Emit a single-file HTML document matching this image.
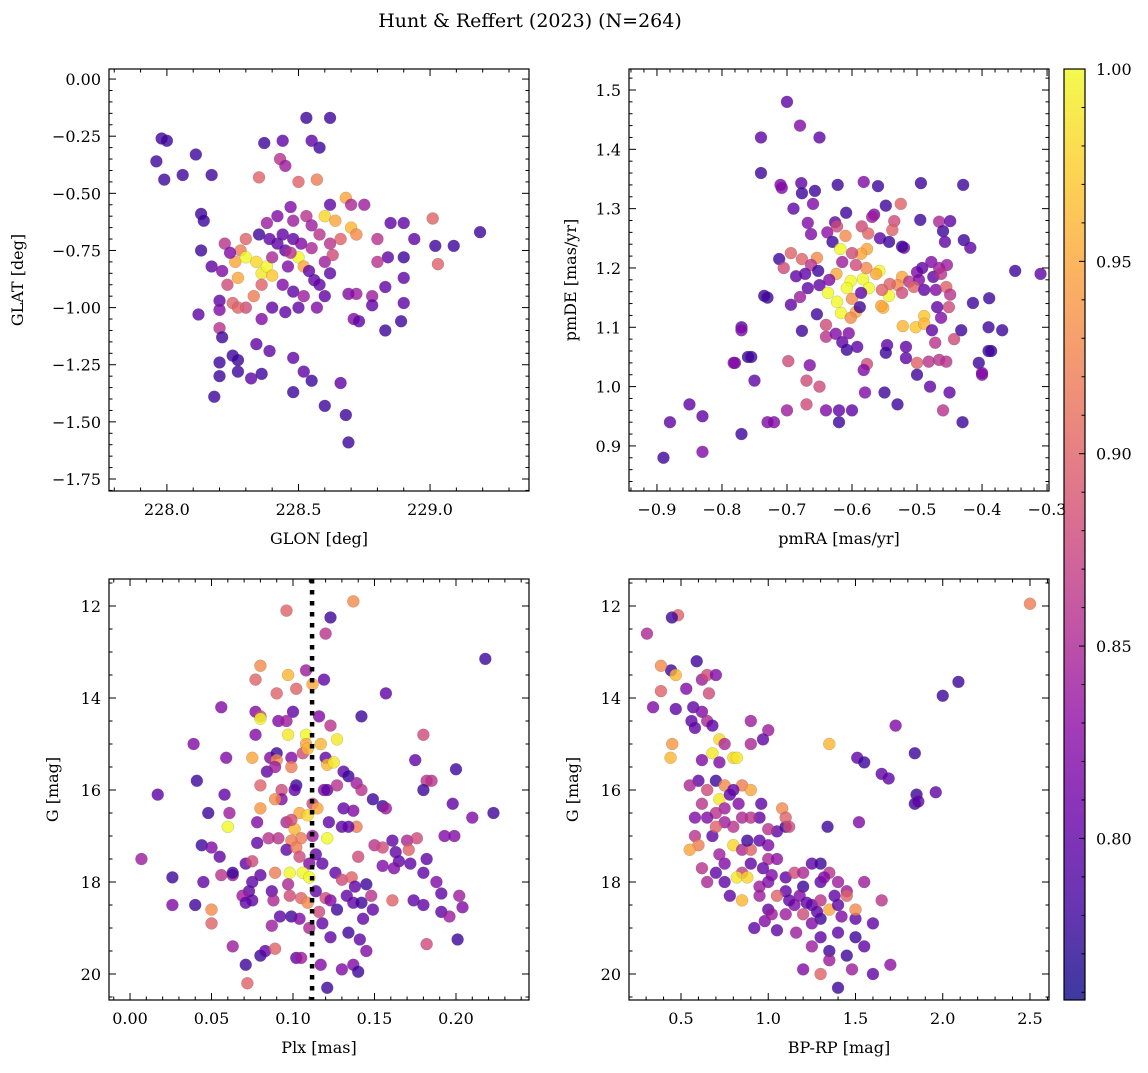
<!DOCTYPE html>
<html><head><meta charset="utf-8"><style>
html,body{margin:0;padding:0;background:#fff}
svg text{font-family:"DejaVu Serif","Liberation Serif",serif;fill:#000}
</style></head><body>
<svg id="chart" width="1148" height="1068" viewBox="0 0 1148 1068" xmlns="http://www.w3.org/2000/svg">
<text x="530" y="27" font-size="19" text-anchor="middle">Hunt &amp; Reffert (2023) (N=264)</text>
</svg>
<script>
// ---- data ----
const skyData=[[227.98,-0.26,.78],[228.0,-0.27,.78],[227.96,-0.36,.78],[227.99,-0.44,.78],[228.06,-0.42,.78],[228.11,-0.33,.78],[228.17,-0.42,.78],[228.13,-0.59,.78],[228.14,-0.62,.78],[228.13,-0.75,.78],[228.17,-0.82,.8],[228.21,-0.84,.82],[228.2,-0.97,.8],[228.2,-1.01,.82],[228.2,-1.09,.86],[228.12,-1.03,.8],[228.21,-1.13,.78],[228.2,-1.24,.78],[228.2,-1.30,.78],[228.18,-1.39,.78],[228.25,-1.21,.78],[228.27,-1.28,.78],[228.27,-1.23,.78],[228.32,-1.31,.8],[228.36,-1.29,.78],[228.39,-1.19,.8],[228.34,-1.16,.8],[228.48,-1.22,.8],[228.48,-1.37,.78],[228.52,-1.28,.8],[228.55,-1.32,.78],[228.6,-1.43,.78],[228.66,-1.33,.8],[228.68,-1.47,.78],[228.69,-1.59,.78],
[228.37,-0.28,.78],[228.44,-0.27,.8],[228.53,-0.17,.78],[228.62,-0.17,.78],[228.58,-0.30,.78],[228.55,-0.27,.8],[228.43,-0.35,.86],[228.45,-0.38,.84],[228.5,-0.45,.9],[228.57,-0.44,.92],[228.35,-0.43,.9],[228.68,-0.52,.95],[228.7,-0.55,.85],[228.75,-0.55,.84],[228.62,-0.55,.8],[228.6,-0.6,.98],[228.64,-0.62,.95],[228.7,-0.65,.96],[228.72,-0.68,.93],[228.66,-0.7,.9],
[228.9,-0.63,.8],[228.85,-0.63,.8],[228.94,-0.7,.8],[229.02,-0.73,.78],[229.09,-0.73,.78],[229.19,-0.67,.78],[229.03,-0.81,.9],[229.01,-0.61,.9],[228.8,-0.7,.86],[228.84,-0.78,.8],[228.9,-0.78,.78],[228.8,-0.8,.86],[228.83,-0.91,.8],[228.9,-0.87,.8],[228.9,-0.98,.8],[228.89,-1.06,.78],[228.83,-1.1,.78],[228.78,-0.95,.84],[228.72,-0.94,.84],[228.69,-0.94,.82],[228.71,-1.05,.82],[228.73,-1.06,.8],[228.78,-0.99,.8],
[228.3,-0.7,.9],[228.28,-0.75,.92],[228.26,-0.8,.95],[228.3,-0.78,1.0],[228.34,-0.8,.98],[228.36,-0.85,.99],[228.38,-0.82,1.0],[228.4,-0.86,.97],[228.36,-0.9,.9],[228.33,-0.95,.92],[228.27,-0.87,.95],[228.25,-0.98,.9],[228.3,-1.0,.88],[228.27,-1.0,.9],[228.4,-0.78,.85],[228.42,-0.72,.8],[228.45,-0.75,.8],[228.48,-0.7,.8],[228.5,-0.78,1.0],[228.52,-0.82,.95],[228.55,-0.74,.85],[228.58,-0.68,.86],[228.46,-0.82,.82],[228.44,-0.9,.82],[228.48,-0.93,.8],[228.52,-0.95,.84],[228.5,-1.0,.8],[228.45,-1.02,.8],[228.56,-0.88,.8],[228.6,-0.8,.84],[228.63,-0.77,.88],[228.62,-0.72,.86],[228.39,-0.7,.8],[228.35,-0.68,.78],[228.22,-0.72,.86],[228.24,-0.76,.82],[228.23,-0.9,.88],[228.42,-0.6,.82],[228.38,-0.63,.84],[228.48,-0.62,.84],[228.47,-0.56,.82],[228.53,-0.6,.86],[228.55,-0.64,.84],[228.4,-1.0,.8],[228.36,-1.05,.82],[228.6,-0.95,.8],[228.57,-1.0,.82],[228.62,-0.85,.8],[228.44,-0.68,.8],[228.51,-0.72,.82],[228.47,-0.76,.86],[228.54,-0.84,.8],[228.58,-0.9,.8]];

const pmData=[[-0.89,0.88,.78],[-0.88,0.94,.8],[-0.85,0.97,.8],[-0.83,0.95,.8],[-0.83,0.89,.82],[-0.77,0.92,.78],[-0.77,1.10,.8],[-0.76,1.05,.78],[-0.75,1.01,.8],[-0.78,1.04,.82],[-0.73,0.94,.82],[-0.72,0.94,.82],[-0.70,0.96,.84],[-0.67,0.97,.88],[-0.65,1.0,.88],[-0.67,1.01,.88],[-0.70,1.48,.8],[-0.74,1.42,.8],[-0.68,1.44,.82],[-0.65,1.42,.8],[-0.74,1.36,.78],[-0.71,1.34,.82],[-0.73,1.15,.78],[-0.31,1.19,.8],[-0.39,1.10,.78],[-0.39,1.06,.78],[-0.40,1.02,.82],[-0.45,0.99,.8],[-0.46,0.96,.86],[-0.43,0.94,.78],[-0.53,0.97,.78],[-0.55,0.99,.78],[-0.58,0.99,.82],[-0.60,0.96,.8],[-0.62,0.96,.8],[-0.62,0.94,.78],[-0.64,0.96,.82],[-0.50,1.02,.78],[-0.48,1.0,.8],
[-0.708,1.335,.82],[-0.678,1.343,.8],[-0.677,1.326,.78],[-0.657,1.33,.78],[-0.622,1.34,.78],[-0.582,1.345,.82],[-0.56,1.338,.78],[-0.494,1.343,.78],[-0.429,1.34,.78],[-0.69,1.30,.8],[-0.66,1.308,.82],[-0.668,1.276,.82],[-0.663,1.257,.82],[-0.638,1.26,.83],[-0.626,1.277,.8],[-0.623,1.27,.88],[-0.61,1.254,.93],[-0.63,1.244,.78],[-0.609,1.293,.78],[-0.585,1.27,.88],[-0.575,1.258,.9],[-0.566,1.29,.82],[-0.569,1.286,.84],[-0.548,1.305,.78],[-0.525,1.308,.9],[-0.535,1.279,.88],[-0.538,1.264,.9],[-0.557,1.25,.8],[-0.543,1.244,.78],[-0.52,1.234,.82],[-0.523,1.236,.78],[-0.495,1.281,.78],[-0.466,1.278,.85],[-0.449,1.279,.8],[-0.46,1.262,.78],[-0.457,1.244,.8],[-0.428,1.247,.78],[-0.418,1.234,.8],
[-0.618,1.232,1.0],[-0.577,1.232,.95],[-0.586,1.224,.95],[-0.6,1.225,.88],[-0.615,1.21,.84],[-0.694,1.225,.9],[-0.677,1.215,.9],[-0.654,1.217,.93],[-0.712,1.215,.78],[-0.705,1.2,.88],[-0.663,1.205,.86],[-0.652,1.195,.78],[-0.686,1.186,.8],[-0.672,1.19,.8],[-0.624,1.19,.95],[-0.635,1.18,.82],[-0.65,1.171,.8],[-0.668,1.166,.8],
[-0.602,1.178,1.0],[-0.583,1.181,1.0],[-0.558,1.195,1.0],[-0.563,1.19,.95],[-0.578,1.2,.93],[-0.594,1.205,.88],[-0.523,1.185,.95],[-0.53,1.171,.93],[-0.512,1.177,.86],[-0.5,1.193,.82],[-0.492,1.2,.8],[-0.478,1.21,.82],[-0.466,1.2,.84],[-0.454,1.205,.84],[-0.475,1.185,.8],[-0.463,1.19,.86],[-0.497,1.18,.82],
[-0.608,1.166,1.0],[-0.574,1.166,1.0],[-0.637,1.158,1.0],[-0.623,1.143,1.0],[-0.617,1.124,1.0],[-0.6,1.148,.93],[-0.594,1.126,.95],[-0.602,1.116,.93],[-0.543,1.153,1.0],[-0.552,1.133,.96],[-0.555,1.136,.95],[-0.542,1.173,.9],[-0.554,1.163,.9],[-0.586,1.158,.8],[-0.588,1.134,.78],
[-0.523,1.158,.88],[-0.505,1.168,.9],[-0.489,1.163,.8],[-0.471,1.163,.82],[-0.455,1.168,.9],[-0.449,1.155,.86],[-0.451,1.134,.88],[-0.469,1.134,.8],[-0.489,1.119,.97],[-0.502,1.1,.97],[-0.522,1.102,.96],[-0.489,1.106,.96],[-0.477,1.095,.8],[-0.472,1.074,.86],[-0.443,1.08,.88],[-0.463,1.116,.82],
[-0.735,1.153,.78],[-0.694,1.138,.8],[-0.68,1.151,.84],[-0.654,1.122,.78],[-0.64,1.104,.88],[-0.64,1.084,.86],[-0.625,1.089,.82],[-0.615,1.075,.8],[-0.605,1.09,.82],[-0.592,1.067,.8],[-0.608,1.062,.78],[-0.546,1.07,.8],[-0.548,1.057,.78],[-0.517,1.067,.8],[-0.517,1.048,.8],[-0.5,1.04,.9],[-0.482,1.042,.86],[-0.466,1.045,.86],[-0.455,1.042,.86],[-0.432,1.095,.78],[-0.405,1.04,.78],[-0.4,1.023,.82],[-0.386,1.06,.78],[-0.369,1.095,.78],[-0.389,1.149,.78],[-0.414,1.141,.78],[-0.349,1.195,.78],[-0.677,1.094,.78],[-0.77,1.095,.82],[-0.755,1.05,.78],[-0.782,1.04,.82],[-0.698,1.043,.88],[-0.665,1.036,.82],[-0.577,1.038,.88],[-0.582,1.028,.82]];

const plxData=[[.137,11.9,.93],[.096,12.1,.9],[.123,12.25,.78],[.120,12.6,.86],[.218,13.15,.78],[.080,13.3,.93],[.097,13.5,.96],[.077,13.6,.9],[.108,13.4,.84],[.112,13.7,.95],[.119,13.6,.8],[.090,13.9,.9],[.102,13.8,.9],[.157,13.9,.8],[.056,14.2,.82],[.077,14.3,.82],[.080,14.4,.88],[.080,14.45,1.0],[.100,14.3,.8],[.116,14.4,.82],[.142,14.4,.78],[.091,14.5,.82],[.096,14.5,.84],[.077,14.8,.82],[.097,14.8,.99],[.108,14.8,1.0],[.123,14.6,.86],[.127,14.9,.99],[.117,15.0,.96],[.108,15.0,.95],[.180,14.8,.88],[.039,15.0,.82],[.059,15.3,.82],[.075,15.3,.95],[.086,15.3,.82],[.090,15.2,.78],[.090,15.35,.93],[.099,15.3,.82],[.099,15.5,.92],[.106,15.2,.88],[.120,15.3,.8],[.121,15.45,.96],[.125,15.4,.99],[.109,15.1,.96],[.175,15.35,.8],[.084,15.6,.8],[.089,15.5,.84],[.131,15.6,.8],[.134,15.7,.78],[.139,15.85,.84],[.142,16.0,.86],[.041,15.8,.78],[.200,15.55,.78],[.182,15.8,.86],[.185,15.8,.86],[.180,16.0,.78],[.017,16.1,.8],[.058,16.1,.8],[.080,15.9,.9],[.093,16.0,.88],[.093,16.2,.82],[.089,16.2,.93],[.102,15.9,.78],[.101,16.0,.8],[.119,16.0,.82],[.121,16.0,.8],[.127,15.9,.86],[.149,16.2,.78],[.155,16.35,.78],[.157,16.4,.84],[.198,16.3,.8],[.223,16.5,.78],[.210,16.6,.82],[.048,16.5,.78],[.061,16.5,.84],[.060,16.8,1.0],[.080,16.4,.94],[.078,16.7,.82],[.112,16.3,.88],[.115,16.4,.95],[.104,16.5,.95],[.109,16.55,.98],[.131,16.4,.8],[.137,16.45,.82],[.139,16.8,.92],[.122,16.7,.8],[.130,16.8,.8],[.134,16.8,.8],[.096,16.7,.85],[.101,16.85,.96],[.099,16.65,.88],[.121,17.05,1.0],[.112,17.0,.84],[.105,17.05,.92],[.099,17.1,.92],[.044,17.2,.78],[.050,17.25,.82],[.055,17.45,.8],[.007,17.5,.84],[.078,17.15,.8],[.085,17.05,.86],[.091,17.05,.86],[.096,17.3,.8],[.102,17.25,.92],[.104,17.45,.88],[.114,17.4,.8],[.118,17.6,.8],[.110,17.6,.82],[.140,17.45,.88],[.150,17.2,.86],[.155,17.25,.88],[.161,17.1,.8],[.163,17.35,.8],[.170,17.1,.85],[.176,17.05,.88],[.171,17.3,.9],[.165,17.55,.8],[.162,17.7,.82],[.172,17.6,.8],[.182,17.5,.8],[.155,17.65,.82],[.193,17.0,.82],[.199,17.0,.82],[.180,17.8,.8],[.188,18.0,.82],[.191,18.25,.8],[.191,18.65,.8],[.196,18.75,.84],[.202,18.3,.84],[.204,18.55,.82],[.174,18.4,.8],[.180,18.5,.8],[.161,18.4,.9],[.071,17.6,.8],[.075,17.55,.88],[.026,17.9,.78],[.045,18.0,.8],[.056,17.85,.86],[.063,17.85,.84],[.063,17.8,.78],[.089,17.8,.92],[.098,17.8,1.0],[.106,17.8,1.0],[.110,17.9,1.0],[.080,17.85,.8],[.075,18.0,.8],[.073,18.2,.8],[.069,18.3,.84],[.075,18.4,.8],[.071,18.45,.8],[.087,18.2,.8],[.097,18.05,.85],[.098,18.3,.88],[.088,18.4,.85],[.105,18.35,.9],[.109,18.45,.93],[.114,18.2,.8],[.126,17.8,.8],[.130,17.95,.88],[.136,17.9,.9],[.138,18.1,.8],[.145,18.05,.78],[.133,18.3,.8],[.137,18.45,.8],[.142,18.45,.78],[.120,18.35,.88],[.123,18.4,.82],[.148,18.3,.86],[.127,18.6,.78],[.149,18.6,.8],[.143,18.8,.8],[.026,18.5,.82],[.040,18.5,.78],[.050,18.6,.93],[.050,18.9,.9],[.092,18.75,.8],[.099,18.75,.78],[.104,18.8,.82],[.110,19.0,.85],[.118,18.9,.8],[.087,18.95,.84],[.116,18.65,.88],[.123,19.2,.8],[.134,19.1,.78],[.141,19.25,.8],[.145,19.5,.82],[.182,19.35,.88],[.201,19.25,.78],[.063,19.4,.84],[.080,19.6,.78],[.083,19.5,.8],[.089,19.45,.9],[.102,19.65,.8],[.105,19.65,.84],[.117,19.8,.82],[.130,19.9,.82],[.137,19.8,.82],[.140,19.95,.78],[.071,19.8,.78],[.072,20.2,.9],[.121,20.3,.78]];

const cmdData=[[0.305,12.6,.85],[0.443,13.4,.78],[0.483,12.2,.9],[0.448,12.25,.78],[0.385,13.3,.93],[0.385,13.85,.9],[0.44,15.3,.96],[0.45,15.0,.94],[0.34,14.2,.82],[0.47,14.24,.8],[0.47,13.5,.96],[0.53,13.8,.82],[0.59,13.2,.78],[0.56,14.5,.8],[0.57,14.2,.8],[0.62,13.6,.84],[0.65,13.5,.88],[0.66,13.9,.88],[0.70,13.5,.82],[2.5,11.95,.92],[2.09,13.65,.78],[2.0,13.95,.78],[1.96,16.05,.8],[1.84,15.2,.78],[1.85,16.1,.78],[1.84,16.3,.78],[1.86,16.25,.8],[1.65,15.65,.8],[1.69,15.75,.8],[1.73,14.6,.82],[1.51,15.3,.8],[1.55,15.4,.78],[1.52,16.7,.82],[1.34,16.8,.78],[1.35,15.0,.96],[1.0,14.7,.84],[0.9,14.5,.84],
[0.62,14.3,.82],[0.65,14.5,.85],[0.68,14.6,.8],[0.58,14.65,.8],[0.72,14.9,.98],[0.75,15.0,.85],[0.68,15.2,.99],[0.62,15.35,.82],[0.72,15.4,.82],[0.8,15.3,.98],[0.82,15.3,.99],[0.9,15.0,.85],[0.97,14.9,.8],[0.7,15.8,.78],[0.6,15.8,.8],[0.65,16.0,.88],[0.55,15.9,.85],[0.75,15.9,.93],[0.85,15.9,.92],[0.9,16.0,.95],[0.8,16.0,.8],[0.72,16.2,.99],[0.75,16.4,.84],[0.7,16.5,.86],[0.65,16.6,.82],[0.8,16.8,.86],[0.75,16.7,.84],[0.85,16.6,.85],[0.95,16.6,.8],[0.58,17.0,.86],[0.6,17.2,.92],[0.55,17.3,.95],[0.8,17.2,.98],[0.85,17.3,.85],[0.9,17.3,.9],[1.0,17.2,.82],[1.05,16.9,.8],[1.1,16.8,.78],[1.08,16.4,.93],[1.1,16.6,.9],[1.12,16.8,.88],[0.95,17.1,.8],[1.0,17.5,.85],[1.05,17.5,.83],[0.9,17.6,.8],[0.85,17.8,.87],[0.75,17.6,.82],[0.7,17.8,.8],[0.62,17.7,.86],[0.65,18.0,.85],[0.75,18.0,.8],[0.82,17.9,.99],[0.88,17.9,.98],[0.95,18.1,.84],[1.0,18.0,.82],[1.1,17.9,.8],[1.15,17.8,.88],[1.2,17.8,.85],[1.25,17.6,.8],[1.3,17.6,.78],[1.35,17.8,.86],[1.4,18.0,.84],[1.45,18.2,.84],[1.3,18.0,.8],[1.2,18.1,.78],[1.1,18.2,.8],[1.05,18.3,.9],[0.95,18.3,.84],[0.85,18.4,.96],[0.78,18.3,.8],[1.0,18.6,.8],[1.15,18.5,.82],[1.2,18.7,.88],[1.25,18.5,.8],[1.3,18.4,.86],[1.35,18.6,.95],[1.4,18.5,.8],[1.45,18.3,.9],[1.3,18.8,.78],[1.25,18.9,.82],[1.1,18.7,.84],[0.92,19.0,.8],[1.5,18.8,.8],[1.6,18.9,.8],[1.65,18.4,.86],[1.55,18.0,.84],[1.3,19.2,.8],[1.25,19.4,.84],[1.35,19.5,.78],[1.5,19.2,.78],[1.45,19.6,.78],[1.35,19.7,.84],[1.48,19.9,.84],[1.3,20.0,.9],[1.4,20.3,.78],[1.2,19.9,.82],[1.6,20.0,.8],[1.7,19.8,.83],[1.55,19.4,.8],[1.4,19.1,.8],[1.5,18.6,.93],
[0.78,16.1,.8],[0.83,16.3,.82],[0.9,16.6,.86],[0.68,17.0,.8],[0.72,17.4,.84],[0.88,17.1,.78],[0.97,17.7,.8],[1.02,17.85,.82],[1.12,18.4,.8],[1.18,18.3,.82],[1.22,18.45,.8],[1.28,18.65,.8],[1.38,18.3,.8],[1.42,18.75,.82],[1.16,19.1,.84],[1.05,19.05,.8],[0.98,18.85,.82],[0.7,16.8,.9],[0.62,16.3,.86],[0.58,16.6,.82],[1.02,18.7,.84],[1.32,17.9,.82],[0.96,16.3,.8],[1.0,16.85,.86]];

const cbTicks=[0.80,0.85,0.90,0.95,1.00];
const pMin=0.758, pMax=1.0;

// ---- rendering ----
const NS='http://www.w3.org/2000/svg';
const svg=document.getElementById('chart');
function mk(tag,attrs,parent){const e=document.createElementNS(NS,tag);for(const k in attrs)e.setAttribute(k,attrs[k]);(parent||svg).appendChild(e);return e;}
const plasma=[[13,8,135],[65,4,157],[106,0,168],[143,13,164],[177,42,144],[204,71,120],[225,100,98],[242,132,75],[252,166,54],[252,206,37],[240,249,33]];
function cmap(t){t=Math.max(0,Math.min(1,t));const s=t*10,i=Math.min(9,Math.floor(s)),f=s-i;const a=plasma[i],b=plasma[i+1];return 'rgb('+[0,1,2].map(k=>Math.round(a[k]+(b[k]-a[k])*f)).join(',')+')';}
function fmt(v,d){return (v<0?'\u2212':'')+Math.abs(v).toFixed(d);}

function panel(o){
  const g=mk('g',{});
  
  
  const sx=v=>o.x0+(v-o.xmin)/(o.xmax-o.xmin)*(o.x1-o.x0);
  const sy=v=>o.y0+(v-o.ymax)/(o.ymin-o.ymax)*(o.y1-o.y0);
  const clip='c'+o.name;
  const cp=mk('clipPath',{id:clip},g);mk('rect',{x:o.x0,y:o.y0,width:o.x1-o.x0,height:o.y1-o.y0},cp);
  const pts=mk('g',{'clip-path':'url(#'+clip+')'},g);
  o.data.forEach(d=>{
    const c=mk('circle',{cx:sx(d[0]),cy:sy(d[1]),r:6,fill:cmap((d[2]-pMin)/(pMax-pMin)),'fill-opacity':0.8,stroke:'#555','stroke-opacity':0.35,'stroke-width':0.5},pts);
    
    
  });
  if(o.vline!==undefined){const l=mk('line',{x1:sx(o.vline),x2:sx(o.vline),y1:o.y0,y2:o.y1,stroke:'#000','stroke-width':4.5,'stroke-dasharray':'4.5 6.5'},pts);
    }
  mk('rect',{x:o.x0,y:o.y0,width:o.x1-o.x0,height:o.y1-o.y0,fill:'none',stroke:'#000','stroke-width':1.2},g);
  const eps=1e-9;
  for(let v=Math.ceil(o.xmin/o.xminor-eps)*o.xminor;v<=o.xmax+eps;v+=o.xminor){
    const X=sx(v);const major=Math.abs(v/o.xmajor-Math.round(v/o.xmajor))<1e-6;const L=major?7:3.5;
    mk('line',{x1:X,x2:X,y1:o.y1,y2:o.y1-L,stroke:'#000','stroke-width':1},g);
    mk('line',{x1:X,x2:X,y1:o.y0,y2:o.y0+L,stroke:'#000','stroke-width':1},g);
    if(major){const t=mk('text',{x:X,y:o.y1+24,'font-size':16,'text-anchor':'middle'},g);t.textContent=fmt(Math.round(v/o.xmajor)*o.xmajor,o.xd);
      }
  }
  const lo=Math.min(o.ymin,o.ymax),hi=Math.max(o.ymin,o.ymax);
  for(let v=Math.ceil(lo/o.yminor-eps)*o.yminor;v<=hi+eps;v+=o.yminor){
    const Y=sy(v);const major=Math.abs(v/o.ymajor-Math.round(v/o.ymajor))<1e-6;const L=major?7:3.5;
    mk('line',{x1:o.x0,x2:o.x0+L,y1:Y,y2:Y,stroke:'#000','stroke-width':1},g);
    mk('line',{x1:o.x1,x2:o.x1-L,y1:Y,y2:Y,stroke:'#000','stroke-width':1},g);
    if(major){const t=mk('text',{x:o.x0-8,y:Y+6,'font-size':16,'text-anchor':'end'},g);t.textContent=fmt(Math.round(v/o.ymajor)*o.ymajor,o.yd);
      }
  }
  const xl=mk('text',{x:(o.x0+o.x1)/2,y:o.y1+53,'font-size':16,'text-anchor':'middle'},g);xl.textContent=o.xlabel;
  
  const yx=o.ylx,yy=(o.y0+o.y1)/2;
  const yl=mk('text',{x:yx,y:yy,'font-size':16,'text-anchor':'middle',transform:'rotate(-90 '+yx+' '+yy+')'},g);yl.textContent=o.ylabel;
  
}
panel({name:'sky-panel',data:skyData,x0:109,x1:529,y0:69,y1:491,xmin:227.78,xmax:229.376,ymin:-1.8025,ymax:0.044,xmajor:0.5,xminor:0.1,ymajor:0.25,yminor:0.05,xd:1,yd:2,xlabel:'GLON [deg]',ylabel:'GLAT [deg]',ylx:23});
panel({name:'proper-motion-panel',data:pmData,x0:629,x1:1049,y0:69,y1:491,xmin:-0.943,xmax:-0.297,ymin:0.824,ymax:1.5354,xmajor:0.1,xminor:0.02,ymajor:0.1,yminor:0.02,xd:1,yd:1,xlabel:'pmRA [mas/yr]',ylabel:'pmDE [mas/yr]',ylx:576});
panel({name:'parallax-panel',data:plxData,x0:109,x1:529,y0:579,y1:1000,xmin:-0.0129,xmax:0.2448,ymin:20.565,ymax:11.413,xmajor:0.05,xminor:0.01,ymajor:2,yminor:0.5,xd:2,yd:0,xlabel:'Plx [mas]',ylabel:'G [mag]',ylx:58,vline:0.1117});
panel({name:'cmd-panel',data:cmdData,x0:629,x1:1049,y0:579,y1:1000,xmin:0.202,xmax:2.609,ymin:20.565,ymax:11.413,xmajor:0.5,xminor:0.1,ymajor:2,yminor:0.5,xd:1,yd:0,xlabel:'BP-RP [mag]',ylabel:'G [mag]',ylx:578});

// colorbar
const cb=mk('g',{});


const defs=mk('defs',{},cb);
const lg=mk('linearGradient',{id:'cbg',x1:0,y1:1,x2:0,y2:0},defs);
for(let i=0;i<=10;i++)mk('stop',{offset:i/10,'stop-color':cmap(i/10),'stop-opacity':0.8},lg);
const cbx0=1064,cbx1=1085,cby0=69,cby1=1000;
mk('rect',{x:cbx0,y:cby0,width:cbx1-cbx0,height:cby1-cby0,fill:'url(#cbg)',stroke:'#000','stroke-width':1.2},cb);
const cy=v=>cby1-(v-pMin)/(pMax-pMin)*(cby1-cby0);
for(let v=0.76;v<=1.0001;v+=0.01){const Y=cy(v);const major=Math.abs(v*20-Math.round(v*20))<1e-6;
  mk('line',{x1:cbx1,x2:cbx1-(major?6:3.5),y1:Y,y2:Y,stroke:'#000','stroke-width':1},cb);}
cbTicks.forEach(v=>{const t=mk('text',{x:cbx1+11,y:cy(v)+6,'font-size':16},cb);t.textContent=v.toFixed(2);
  });
</script>
</body></html>
